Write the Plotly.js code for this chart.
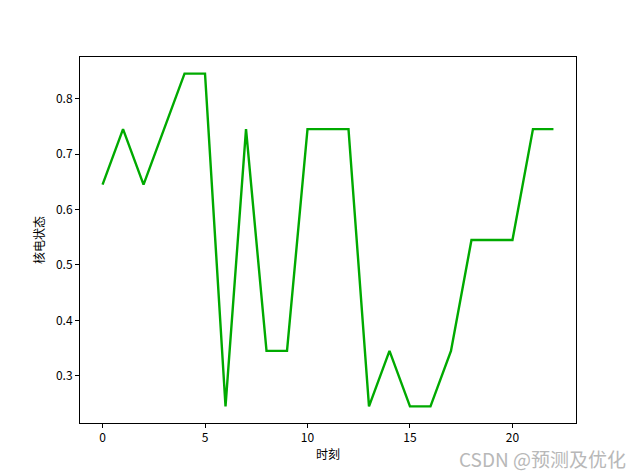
<!DOCTYPE html>
<html><head><meta charset="utf-8">
<script src="https://cdn.plot.ly/plotly-3.0.1.min.js"></script>
<style>html,body{margin:0;padding:0;background:#fff}</style>
</head><body><div id="chart" style="width:640px;height:476px"></div>
<script>
var timeSteps = [0,1,2,3,4,5,6,7,8,9,10,11,12,13,14,15,16,17,18,19,20,21,22];
var nuclearState = [0.645,0.745,0.645,0.745,0.845,0.845,0.245,0.745,0.345,0.345,0.745,0.745,0.745,0.245,0.345,0.245,0.245,0.345,0.545,0.545,0.545,0.745,0.745];
var xTicks = [0,5,10,15,20];
var yTicks = [0.3,0.4,0.5,0.6,0.7,0.8];
var font = "'Noto Sans CJK SC', 'DejaVu Sans', sans-serif";
Plotly.newPlot('chart', [{
  x: timeSteps, y: nuclearState, type: 'scatter', mode: 'lines',
  line: {color: '#00aa00', width: 2.4}
}], {
  width: 640, height: 476,
  margin: {l: 80, r: 64, t: 57, b: 53},
  paper_bgcolor: '#fff', plot_bgcolor: '#fff',
  font: {family: font, size: 12, color: '#000'},
  showlegend: false,
  xaxis: {range: [-1.1, 23.1], tickvals: xTicks, ticktext: xTicks.map(String),
    showgrid: false, zeroline: false, showline: true, mirror: true, linecolor: '#000', linewidth: 1,
    ticks: 'outside', ticklen: 4, tickcolor: '#000',
    title: {text: '时刻', font: {family: font, size: 12}, standoff: 6}},
  yaxis: {range: [0.215, 0.875], tickvals: yTicks, ticktext: yTicks.map(function(v){return v.toFixed(1);}),
    showgrid: false, zeroline: false, showline: true, mirror: true, linecolor: '#000', linewidth: 1,
    ticks: 'outside', ticklen: 4, tickcolor: '#000',
    title: {text: '核电状态', font: {family: font, size: 12}, standoff: 8}},
  annotations: [{text: 'CSDN @预测及优化', xref: 'paper', yref: 'paper', x: 1.105, y: -0.097,
    xanchor: 'right', yanchor: 'middle', showarrow: false,
    font: {family: font, size: 19, color: '#b8b8b8'}}]
}, {displayModeBar: false, staticPlot: true});
</script></body></html>
